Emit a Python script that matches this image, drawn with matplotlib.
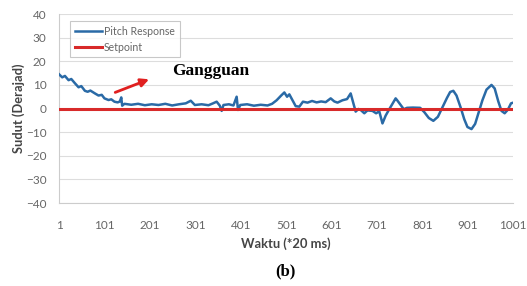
import matplotlib
matplotlib.use("Agg")
import matplotlib.pyplot as plt

# pitch response (sample index, degrees)
waktu = [1, 8, 14, 22, 28, 36, 44, 50, 58, 64, 70, 80, 88, 95, 101, 110, 116, 123, 130,
         135, 138, 140, 145, 160, 175, 190, 205, 220, 235, 250, 265, 280, 291, 300, 315,
         330, 340, 348, 355, 359, 363, 375, 385, 392, 395, 400, 415, 430, 445, 460, 470,
         480, 490, 497, 503, 508, 515, 522, 530, 538, 548, 558, 568, 578, 588, 599, 607,
         614, 625, 635, 643, 654, 660, 665, 673, 680, 691, 699, 706, 713, 720, 727, 735,
         742, 745, 760, 767, 780, 796, 805, 815, 825, 835, 845, 855, 862, 869, 876, 885,
         893, 900, 909, 917, 925, 933, 942, 953, 960, 968, 975, 982, 989, 996, 1001]
pitch = [14.5, 13.2, 13.8, 12.0, 12.5, 10.7, 9.0, 9.5, 7.5, 7.1, 7.6, 6.4, 5.5, 5.8, 4.3,
         3.6, 3.9, 2.9, 2.6, 3.0, 4.7, 1.2, 2.0, 1.6, 2.0, 1.4, 1.8, 1.5, 2.0, 1.3, 1.8, 2.2,
         3.3, 1.5, 1.8, 1.4, 2.2, 2.9, 1.2, -1.0, 1.5, 1.8, 1.3, 5.0, -0.6, 1.5, 1.8, 1.2,
         1.6, 1.3, 2.0, 3.5, 5.5, 6.8, 5.0, 6.0, 3.5, 1.0, 0.8, 2.9, 2.5, 3.2, 2.6, 3.0, 2.7,
         4.3, 3.0, 2.5, 3.5, 4.0, 6.4, -1.3, -0.2, -0.6, -2.0, -0.8, -1.0, -2.0, -1.2, -6.3,
         -3.0, -0.6, 2.0, 4.3, 3.6, -0.3, 0.3, 0.4, 0.3, -1.5, -4.0, -5.2, -3.5, 0.5, 4.5,
         7.0, 7.5, 5.5, 0.5, -4.5, -7.8, -8.7, -6.5, -1.5, 3.5, 8.0, 10.0, 8.5, 3.0, -1.0,
         -2.0, -0.5, 2.2, 2.5]
setpoint = [0, 0]
setpoint_x = [1, 1001]
x_ticks = [1, 101, 201, 301, 401, 501, 601, 701, 801, 901, 1001]
y_ticks = [-40, -30, -20, -10, 0, 10, 20, 30, 40]

plt.rcParams['font.family'] = ['Lato', 'DejaVu Sans']

fig = plt.figure(figsize=(5.27, 2.86), dpi=100)
ax = fig.add_axes([0.112, 0.29, 0.862, 0.661])

ax.plot(waktu, pitch, color='#2a6aa6', lw=1.8, label='Pitch Response', zorder=3)
ax.plot(setpoint_x, setpoint, color='#d82a2a', lw=2.2, label='Setpoint', zorder=4)

ax.set_xlim(1, 1001)
ax.set_ylim(-40, 40)
ax.set_xticks(x_ticks)
ax.set_yticks(y_ticks)
ax.tick_params(length=0, labelsize=8.5, labelcolor='#666666')
ax.tick_params(axis='x', pad=12)
ax.tick_params(axis='y', pad=9)
ax.grid(axis='y', color='#dddddd', lw=0.8)
ax.set_axisbelow(True)
for s in ['top', 'right']:
    ax.spines[s].set_visible(False)
ax.spines['left'].set_color('#cccccc')
ax.spines['bottom'].set_color('#cccccc')

ax.set_xlabel('Waktu (*20 ms)', fontsize=9.3, fontweight='bold', color='#444444', labelpad=5)
ax.set_ylabel('Sudut (Derajad)', fontsize=9.3, fontweight='bold', color='#444444', labelpad=1)

leg = ax.legend(loc='upper left', bbox_to_anchor=(0.012, 0.99), fontsize=7.6,
                handlelength=2.6, handletextpad=0.2, frameon=True, fancybox=False,
                borderpad=0.45, labelspacing=0.45)
leg.get_frame().set_edgecolor('#bbbbbb')
leg.get_frame().set_linewidth(0.8)
for t in leg.get_texts():
    t.set_color('#666666')

ax.annotate('', xy=(205, 12.8), xytext=(119, 6.4),
            arrowprops=dict(arrowstyle='-|>', color='#e02020', lw=2,
                            mutation_scale=12))
ax.text(250, 15.9, 'Gangguan', fontsize=12.5, fontweight='bold',
        family=['Liberation Serif', 'DejaVu Serif'], va='center', ha='left')

fig.text(0.541, 0.05, '(b)', fontsize=12, fontweight='bold',
         family=['Liberation Serif', 'DejaVu Serif'], ha='center', va='center')

fig.savefig('out.png', dpi=100)
